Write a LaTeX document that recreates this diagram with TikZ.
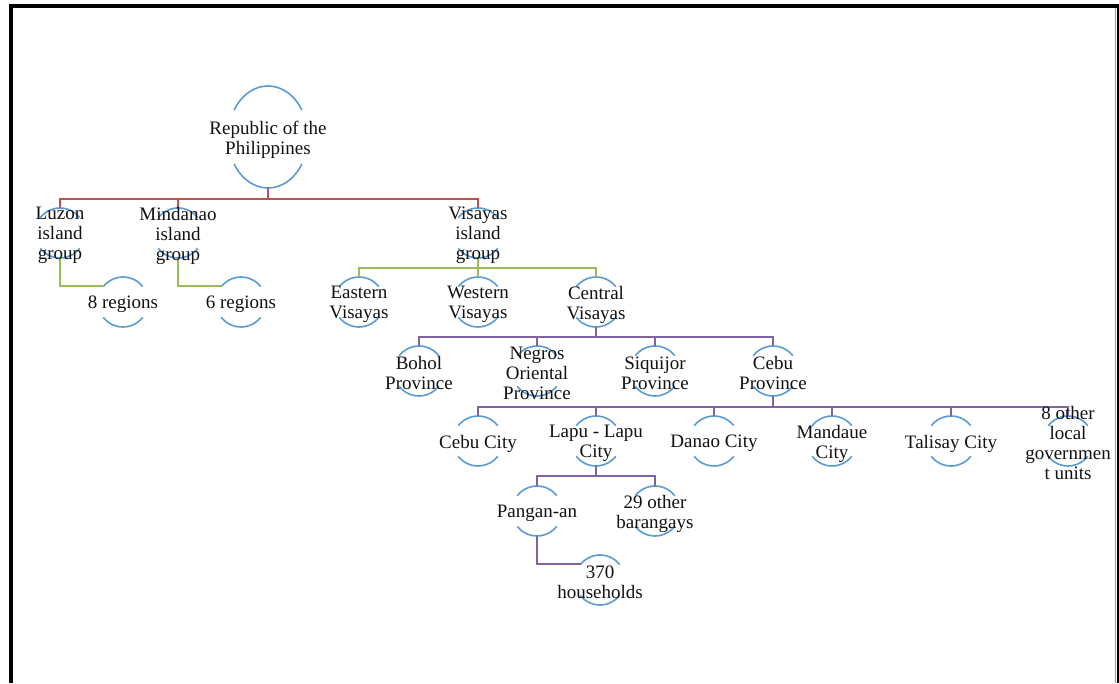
\documentclass[tikz,border=0pt]{standalone}
\usepackage{fontspec}
\setmainfont{Liberation Serif}
\usetikzlibrary{calc,shapes.geometric}
\pgfdeclarelayer{bg}
\pgfsetlayers{bg,main}
\definecolor{cred}{HTML}{C0504D}
\definecolor{cgreen}{HTML}{9BBB59}
\definecolor{cpurple}{HTML}{8064A2}
\definecolor{cblue}{HTML}{5B9BD5}
\definecolor{ctext}{HTML}{111111}
\definecolor{cframe}{HTML}{9A9A9A}
\begin{document}
\begin{tikzpicture}[x=1pt,y=1pt,
  cnode/.style={circle, minimum size=50pt, inner sep=0pt, outer sep=0pt},
  bignode/.style={ellipse, minimum width=80pt, minimum height=102pt, inner sep=0pt, outer sep=0pt},
  ctxt/.style={align=center, inner sep=0pt, yshift=-2.5pt, font=\fontsize{19}{20}\selectfont, text=ctext},
  arcst/.style={cblue, line width=1.6pt},
  redc/.style={cred, line width=2pt},
  greenc/.style={cgreen, line width=2pt},
  purplec/.style={cpurple, line width=2pt},
  framest/.style={black, line width=4pt}
]
\useasboundingbox (0,0) rectangle (1119,683);

% frame
\draw[framest] (11,0) |- (1119,677);
\draw[black, line width=3pt] (1118,679) -- (1118,0);
\draw[cframe, line width=0.8pt] (1115,675) -- (1115,0);

% nodes
\node[bignode, label={[ctxt]center:{Republic of the\\Philippines}}] (rep) at (268,546) {};
\node[cnode, label={[ctxt]center:{Luzon\\island\\group}}] (luz) at (60,450) {};
\node[cnode, label={[ctxt]center:{Mindanao\\island\\group}}] (min) at (178,450) {};
\node[cnode, label={[ctxt]center:{Visayas\\island\\group}}] (vis) at (478,450) {};
\node[cnode, label={[ctxt]center:{8 regions}}] (reg8) at (123,381) {};
\node[cnode, label={[ctxt]center:{6 regions}}] (reg6) at (241,381) {};
\node[cnode, label={[ctxt]center:{Eastern\\Visayas}}] (east) at (359,381) {};
\node[cnode, label={[ctxt]center:{Western\\Visayas}}] (west) at (478,381) {};
\node[cnode, label={[ctxt]center:{Central\\Visayas}}] (cent) at (596,381) {};
\node[cnode, label={[ctxt]center:{Bohol\\Province}}] (bohol) at (419,312) {};
\node[cnode, label={[ctxt]center:{Negros\\Oriental\\Province}}] (negros) at (537,312) {};
\node[cnode, label={[ctxt]center:{Siquijor\\Province}}] (siq) at (655,312) {};
\node[cnode, label={[ctxt]center:{Cebu\\Province}}] (cebup) at (773,312) {};
\node[cnode, label={[ctxt]center:{Cebu City}}] (cebuc) at (478,242) {};
\node[cnode, label={[ctxt]center:{Lapu - Lapu\\City}}] (lapu) at (596,242) {};
\node[cnode, label={[ctxt]center:{Danao City}}] (danao) at (714,242) {};
\node[cnode, label={[ctxt]center:{Mandaue\\City}}] (mand) at (832,242) {};
\node[cnode, label={[ctxt]center:{Talisay City}}] (tal) at (951,242) {};
\node[cnode, label={[ctxt]center:{8 other\\local\\governmen\\t units}}] (other) at (1068,242) {};
\node[cnode, label={[ctxt]center:{Pangan-an}}] (pang) at (537,172) {};
\node[cnode, label={[ctxt]center:{29 other\\barangays}}] (bar) at (655,172) {};
\node[cnode, label={[ctxt]center:{370\\households}}] (hh) at (600,103) {};

\begin{pgfonlayer}{bg}
% arcs
\draw[arcst] ($(rep.center)+({40*cos(32)},{51*sin(32)})$) arc[start angle=32,end angle=148,x radius=40,y radius=51];
\draw[arcst] ($(rep.center)+({40*cos(212)},{51*sin(212)})$) arc[start angle=212,end angle=328,x radius=40,y radius=51];
\foreach \n in {luz,min,vis,reg8,reg6,east,west,cent,bohol,negros,siq,cebup,cebuc,lapu,danao,mand,tal,other,pang,bar,hh}{
  \draw[arcst] (\n.38) arc[start angle=38,end angle=142,radius=25];
  \draw[arcst] (\n.218) arc[start angle=218,end angle=322,radius=25];
}
% red
\coordinate (b0) at (268,484);
\draw[redc] (rep.south) -- (b0);
\draw[redc] (luz.north) |- (vis.north |- b0) -- (vis.north);
\draw[redc] (min.north) -- (min.north |- b0);
% green
\draw[greenc] (luz.south) |- (reg8.141);
\draw[greenc] (min.south) |- (reg6.141);
\coordinate (b1) at (478,415);
\draw[greenc] (vis.south) -- (b1);
\draw[greenc] (east.north) |- (cent.north |- b1) -- (cent.north);
\draw[greenc] (west.north) -- (west.north |- b1);
% purple
\coordinate (b2) at (596,346);
\draw[purplec] (cent.south) -- (b2);
\draw[purplec] (bohol.north) |- (cebup.north |- b2) -- (cebup.north);
\draw[purplec] (negros.north) -- (negros.north |- b2);
\draw[purplec] (siq.north) -- (siq.north |- b2);
\coordinate (b3) at (773,276);
\draw[purplec] (cebup.south) -- (b3);
\draw[purplec] (cebuc.north) |- (other.north |- b3) -- (other.north);
\foreach \n in {lapu,danao,mand,tal}{
  \draw[purplec] (\n.north) -- (\n.north |- b3);
}
\coordinate (b4) at (596,207);
\draw[purplec] (lapu.south) -- (b4);
\draw[purplec] (pang.north) |- (bar.north |- b4) -- (bar.north);
\draw[purplec] (pang.south) |- (hh.141);
\end{pgfonlayer}
\end{tikzpicture}
\end{document}
